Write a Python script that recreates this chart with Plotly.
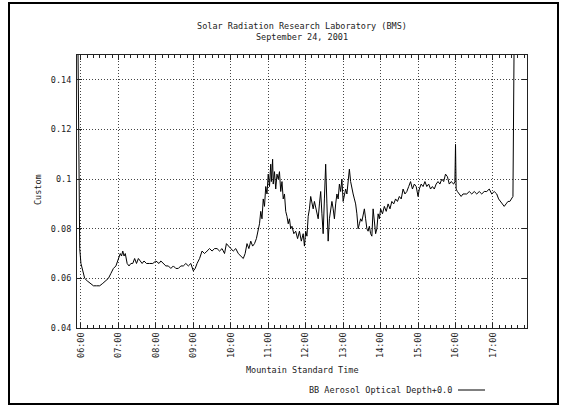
import plotly.graph_objects as go

# Data (Mountain Standard Time, Sep 24 2001)
day = "2001-09-24"
times = [
    "05:55", "05:56", "05:57", "05:58", "06:00", "06:03", "06:06", "06:10", "06:15", "06:20",
    "06:25", "06:30", "06:35", "06:40", "06:44", "06:48", "06:52", "06:56", "07:00", "07:03",
    "07:05", "07:07", "07:09", "07:11", "07:14", "07:17", "07:20", "07:23", "07:26", "07:29",
    "07:32", "07:35", "07:38", "07:41", "07:45", "07:50", "07:55", "08:00", "08:05", "08:08",
    "08:12", "08:16", "08:20", "08:24", "08:28", "08:32", "08:36", "08:40", "08:44", "08:48",
    "08:52", "08:56", "09:00", "09:03", "09:06", "09:10", "09:14", "09:18", "09:22", "09:26",
    "09:30", "09:34", "09:38", "09:42", "09:46", "09:50", "09:53", "09:56", "10:00", "10:04",
    "10:08", "10:12", "10:16", "10:20", "10:23", "10:26", "10:29", "10:32", "10:35", "10:38",
    "10:41", "10:44", "10:46", "10:48", "10:50", "10:52", "10:54", "10:56", "10:58", "11:00",
    "11:02", "11:04", "11:05", "11:07", "11:08", "11:10", "11:12", "11:14", "11:16", "11:18",
    "11:20", "11:22", "11:24", "11:26", "11:28", "11:30", "11:32", "11:34", "11:36", "11:38",
    "11:41", "11:44", "11:47", "11:50", "11:53", "11:56", "11:58", "12:00", "12:02", "12:04",
    "12:06", "12:08", "12:10", "12:12", "12:14", "12:16", "12:18", "12:20", "12:22", "12:24",
    "12:26", "12:28", "12:30", "12:32", "12:34", "12:36", "12:38", "12:40", "12:42", "12:44",
    "12:46", "12:48", "12:50", "12:52", "12:54", "12:56", "12:58", "13:00", "13:02", "13:04",
    "13:06", "13:08", "13:10", "13:12", "13:14", "13:16", "13:18", "13:20", "13:22", "13:24",
    "13:26", "13:28", "13:30", "13:32", "13:34", "13:36", "13:38", "13:40", "13:42", "13:44",
    "13:46", "13:48", "13:50", "13:52", "13:54", "13:56", "13:58", "14:00", "14:03", "14:06",
    "14:09", "14:12", "14:15", "14:18", "14:21", "14:24", "14:27", "14:30", "14:33", "14:36",
    "14:39", "14:42", "14:45", "14:48", "14:51", "14:54", "14:57", "15:00", "15:02", "15:05",
    "15:08", "15:11", "15:14", "15:17", "15:20", "15:23", "15:26", "15:29", "15:32", "15:35",
    "15:38", "15:41", "15:44", "15:47", "15:50", "15:53", "15:57", "15:59", "16:00", "16:01",
    "16:03", "16:06", "16:09", "16:12", "16:15", "16:18", "16:22", "16:26", "16:30", "16:34",
    "16:38", "16:42", "16:46", "16:50", "16:54", "16:58", "17:02", "17:06", "17:09", "17:12",
    "17:15", "17:18", "17:21", "17:24", "17:27", "17:30", "17:32", "17:34",
]
aod = [
    0.160, 0.112, 0.080, 0.072, 0.066, 0.063, 0.060, 0.059, 0.058, 0.057,
    0.057, 0.057, 0.058, 0.059, 0.060, 0.062, 0.064, 0.065, 0.068, 0.070,
    0.069, 0.071, 0.069, 0.070, 0.066, 0.065, 0.066, 0.066, 0.068, 0.066,
    0.068, 0.067, 0.066, 0.067, 0.066, 0.066, 0.066, 0.067, 0.066, 0.067,
    0.066, 0.065, 0.065, 0.064, 0.065, 0.064, 0.064, 0.065, 0.065, 0.066,
    0.065, 0.066, 0.063, 0.064, 0.066, 0.068, 0.071, 0.070, 0.071, 0.072,
    0.071, 0.072, 0.072, 0.071, 0.072, 0.070, 0.074, 0.073, 0.072, 0.071,
    0.072, 0.070, 0.069, 0.068, 0.070, 0.074, 0.072, 0.075, 0.073, 0.074,
    0.076, 0.080, 0.082, 0.087, 0.084, 0.092, 0.089, 0.097, 0.094, 0.102,
    0.097, 0.106, 0.099, 0.108, 0.098, 0.103, 0.096, 0.102, 0.100, 0.103,
    0.095, 0.099, 0.092, 0.094, 0.087, 0.085, 0.082, 0.084, 0.080, 0.081,
    0.078, 0.079, 0.076, 0.079, 0.075, 0.078, 0.073, 0.079, 0.077, 0.085,
    0.088, 0.093, 0.090, 0.088, 0.091, 0.089, 0.086, 0.084, 0.090, 0.095,
    0.086, 0.078, 0.092, 0.106, 0.090, 0.075, 0.084, 0.088, 0.091, 0.088,
    0.084, 0.090, 0.094, 0.092, 0.098, 0.095, 0.100, 0.091, 0.093, 0.096,
    0.094, 0.100, 0.104, 0.099, 0.096, 0.094, 0.092, 0.090, 0.086, 0.080,
    0.082, 0.084, 0.083, 0.086, 0.088, 0.084, 0.080, 0.079, 0.081, 0.078,
    0.077, 0.088, 0.084, 0.078, 0.080, 0.086, 0.084, 0.088, 0.086, 0.089,
    0.087, 0.090, 0.088, 0.091, 0.090, 0.092, 0.091, 0.093, 0.092, 0.096,
    0.094, 0.095, 0.097, 0.099, 0.096, 0.098, 0.097, 0.093, 0.096, 0.098,
    0.097, 0.099, 0.097, 0.098, 0.096, 0.097, 0.096, 0.098, 0.099, 0.098,
    0.100, 0.099, 0.102, 0.101, 0.098, 0.099, 0.098, 0.099, 0.114, 0.096,
    0.095, 0.094, 0.093, 0.094, 0.094, 0.094, 0.095, 0.094, 0.095, 0.094,
    0.095, 0.094, 0.095, 0.095, 0.096, 0.094, 0.095, 0.094, 0.092, 0.091,
    0.090, 0.089, 0.090, 0.091, 0.091, 0.092, 0.093, 0.160,
]
x_ticks = ["06:00", "07:00", "08:00", "09:00", "10:00", "11:00",
           "12:00", "13:00", "14:00", "15:00", "16:00", "17:00"]
y_ticks = [0.04, 0.06, 0.08, 0.10, 0.12, 0.14]

mono = "DejaVu Sans Mono"
ink = "#222222"
dots = "1px,2px"

fig = go.Figure()
fig.add_trace(go.Scatter(
    x=[f"{day} {t}" for t in times], y=aod, mode="lines",
    name="BB Aerosol Optical Depth+0.0",
    line=dict(color="black", width=1), showlegend=False,
))

fig.update_layout(
    width=562, height=407,
    margin=dict(l=77, r=35, t=55, b=79),
    paper_bgcolor="white", plot_bgcolor="white",
    font=dict(family=mono, size=8.5, color=ink),
    title=dict(
        text="Solar Radiation Research Laboratory (BMS)<br>September 24, 2001",
        x=0.5, xref="paper", y=1 - 29 / 407, yref="container",
        xanchor="center", yanchor="middle",
        font=dict(family=mono, size=8.5, color=ink),
    ),
    xaxis=dict(
        type="date",
        range=[f"{day} 05:53:40", f"{day} 17:54:30"],
        tickvals=[f"{day} {t}" for t in x_ticks], ticktext=x_ticks,
        tickangle=-90,
        ticks="inside", ticklen=5, tickcolor=ink,
        minor=dict(dtick=600000, tick0=f"{day} 06:00", ticks="inside",
                   ticklen=3, tickcolor=ink, showgrid=False),
        showline=True, linecolor=ink, linewidth=1, mirror="ticks",
        showgrid=True, gridcolor="#444444", griddash=dots, gridwidth=1,
        zeroline=False,
        tickfont=dict(family=mono, size=8.5, color=ink),
    ),
    yaxis=dict(
        range=[0.04, 0.15],
        tickvals=y_ticks,
        ticks="inside", ticklen=5, tickcolor=ink,
        showline=True, linecolor=ink, linewidth=1, mirror="ticks",
        showgrid=True, gridcolor="#444444", griddash=dots, gridwidth=1,
        zeroline=False,
        ticklabelstandoff=3,
        tickfont=dict(family=mono, size=8.5, color=ink),
    ),
    annotations=[
        dict(text="Mountain Standard Time", xref="paper", yref="paper",
             x=0.5, y=(328 - 370) / 273, showarrow=False,
             xanchor="center", yanchor="middle"),
        dict(text="Custom", xref="paper", yref="paper",
             x=(38 - 77) / 450, y=(328 - 190) / 273, showarrow=False,
             textangle=-90, xanchor="center", yanchor="middle"),
        dict(text="BB Aerosol Optical Depth+0.0", xref="paper", yref="paper",
             x=(454 - 77) / 450, y=(328 - 390) / 273, showarrow=False,
             xanchor="right", yanchor="middle"),
    ],
    shapes=[
        # outer frame
        dict(type="rect", xref="paper", yref="paper",
             x0=(9 - 77) / 450, x1=(558 - 77) / 450,
             y0=(328 - 404) / 273, y1=(328 - 3) / 273,
             line=dict(color="black", width=2)),
        # legend line sample
        dict(type="line", xref="paper", yref="paper",
             x0=(458 - 77) / 450, x1=(485 - 77) / 450,
             y0=(328 - 390) / 273, y1=(328 - 390) / 273,
             line=dict(color="black", width=1)),
    ],
)

fig.write_html("out.html", config={"displayModeBar": False},
               post_script="document.body.style.margin='0';")
